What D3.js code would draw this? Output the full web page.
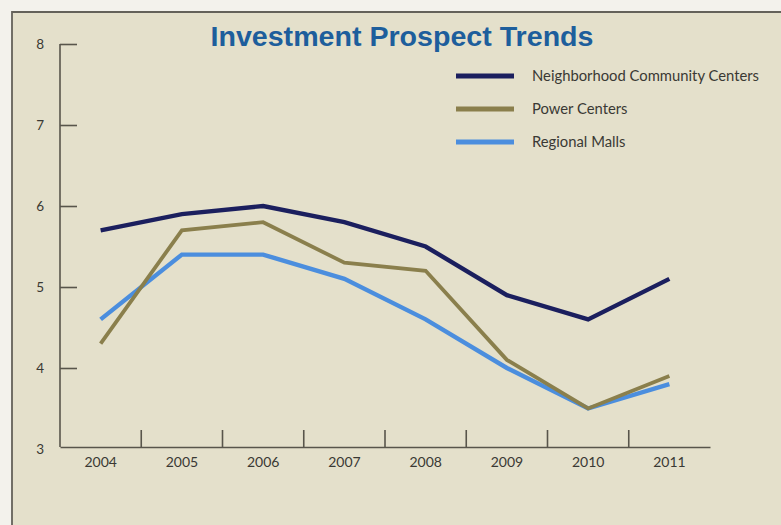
<!DOCTYPE html>
<html>
<head>
<meta charset="utf-8">
<script src="https://cdn.jsdelivr.net/npm/d3@7"></script>
<style>
  html, body { margin: 0; padding: 0; background: #f3f2ec; }
  svg { display: block; }
  text { font-family: Lato, "Open Sans", sans-serif; }
</style>
</head>
<body>
<svg id="chart" width="781" height="525"></svg>
<script>
// Survey years and the three property-type prospect series
const years = ["2004", "2005", "2006", "2007", "2008", "2009", "2010", "2011"];
const neighborhoodCenters = [5.7, 5.9, 6.0, 5.8, 5.5, 4.9, 4.6, 5.1];
const powerCenters = [4.3, 5.7, 5.8, 5.3, 5.2, 4.1, 3.5, 3.9];
const regionalMalls = [4.6, 5.4, 5.4, 5.1, 4.6, 4.0, 3.5, 3.8];
const yTicks = [3, 4, 5, 6, 7, 8];

const seriesNames = ["Neighborhood Community Centers", "Power Centers", "Regional Malls"];
const seriesValues = [neighborhoodCenters, powerCenters, regionalMalls];
const seriesColors = ["#1b1f5e", "#8a7f4c", "#4b8ede"];

const svg = d3.select("#chart");
const W = 781, H = 525;

// panel background with a thin frame on the top and left edges
svg.append("rect").attr("x", 12).attr("y", 12).attr("width", W - 12).attr("height", H - 12)
  .attr("fill", "#e4e0cb");
svg.append("path").attr("d", `M12,${H} V12 H${W}`)
  .attr("fill", "none").attr("stroke", "#64625a").attr("stroke-width", 1.8);

const plot = { left: 60, right: 710, top: 44, bottom: 447 };

const x = d3.scaleBand().domain(years).range([plot.left, plot.right]).padding(0);
const y = d3.scaleLinear().domain([3, 8]).range([plot.bottom + 2, plot.top]);

const axisColor = "#58554b";
const labelColor = "#3a3934";

// y axis: inward ticks
const yAxis = svg.append("g").attr("transform", `translate(${plot.left},0)`)
  .call(d3.axisLeft(y).tickValues(yTicks).tickFormat(d3.format("d"))
    .tickSize(-17).tickSizeOuter(0).tickPadding(16));
yAxis.select(".domain").attr("stroke", axisColor).attr("stroke-width", 1.6)
  .attr("d", `M0,${plot.bottom}V${plot.top}`);
yAxis.selectAll(".tick line").attr("stroke", axisColor).attr("stroke-width", 1.6)
  .filter(d => d === 3).remove();
yAxis.selectAll(".tick text").attr("fill", labelColor)
  .style("font-size", "13.5px").style("font-family", "Lato, sans-serif");

// x axis: category labels centred in each band, ticks on band boundaries
const xAxis = svg.append("g").attr("transform", `translate(0,${plot.bottom})`)
  .call(d3.axisBottom(x).tickSize(0).tickSizeOuter(0).tickPadding(10));
xAxis.select(".domain").attr("stroke", axisColor).attr("stroke-width", 1.6);
xAxis.selectAll(".tick text").attr("fill", labelColor)
  .style("font-size", "14px").style("font-family", "Lato, sans-serif");
svg.append("g").selectAll("line").data(years.slice(1)).join("line")
  .attr("x1", d => x(d)).attr("x2", d => x(d))
  .attr("y1", plot.bottom).attr("y2", plot.bottom - 17)
  .attr("stroke", axisColor).attr("stroke-width", 1.6);

// series lines through band centres
const line = d3.line()
  .x((d, i) => x(years[i]) + x.bandwidth() / 2)
  .y(d => y(d));

const drawOrder = [2, 1, 0];
const widths = [4.4, 3.8, 4.4];
drawOrder.forEach(k => {
  svg.append("path").datum(seriesValues[k])
    .attr("d", line)
    .attr("fill", "none")
    .attr("stroke", seriesColors[k])
    .attr("stroke-width", widths[k])
    .attr("stroke-linejoin", "miter")
    .attr("stroke-linecap", "butt");
});

// title
svg.append("text")
  .attr("x", 402).attr("y", 46)
  .attr("text-anchor", "middle")
  .attr("fill", "#1d5e9c")
  .style("font-family", "'Liberation Sans', Arial, sans-serif")
  .style("font-weight", "bold")
  .style("font-size", "27px")
  .attr("textLength", 383).attr("lengthAdjust", "spacingAndGlyphs")
  .text("Investment Prospect Trends");

// legend
const legend = svg.append("g");
const rowY = [76, 109, 142];
seriesNames.forEach((name, i) => {
  legend.append("line")
    .attr("x1", 456).attr("x2", 514).attr("y1", rowY[i]).attr("y2", rowY[i])
    .attr("stroke", seriesColors[i]).attr("stroke-width", 5);
  legend.append("text")
    .attr("x", 532).attr("y", rowY[i]).attr("dy", "0.35em")
    .attr("fill", labelColor)
    .style("font-size", "14.8px")
    .text(name);
});
</script>
</body>
</html>
